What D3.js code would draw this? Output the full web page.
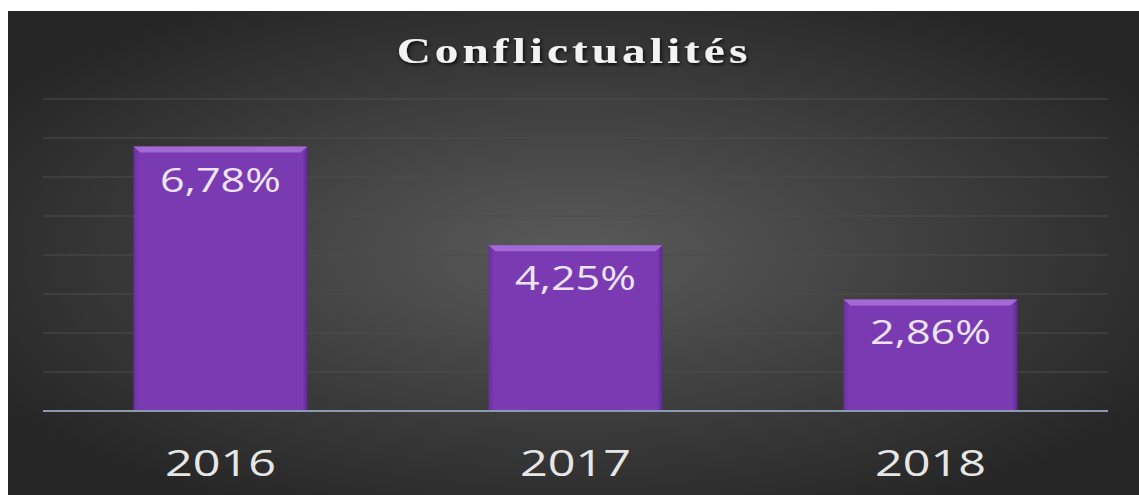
<!doctype html>
<html>
  <head>
    <script src="https://cdnjs.cloudflare.com/ajax/libs/d3/7.8.5/d3.min.js"></script>
    <style>
      body { margin:0; background:#fff; }
      svg { display:block; }
    </style>
  </head>
<body>
  <svg id="chart" width="1139" height="495"></svg>
  <script>
    var years = ["2016", "2017", "2018"];
    var rates = [6.78, 4.25, 2.86];
    var rateLabels = ["6,78%", "4,25%", "2,86%"];
    var yTicks = [1, 2, 3, 4, 5, 6, 7, 8];

    // the source image is stretched sideways, so text is too
    var stretch = 1.35;

    var svg = d3.select("#chart");
    var defs = svg.append("defs");

    var bg = defs.append("radialGradient").attr("id", "bg")
                 .attr("cx", "0.5").attr("cy", "0.5").attr("r", "0.6");
    bg.append("stop").attr("offset", "0%").attr("stop-color", "#5a5a5a");
    bg.append("stop").attr("offset", "100%").attr("stop-color", "#262626");

    var side = defs.append("linearGradient").attr("id", "side")
                   .attr("x1", 0).attr("x2", 1).attr("y1", 0).attr("y2", 0);
    side.append("stop").attr("offset", "0%").attr("stop-color", "#6a2ea0");
    side.append("stop").attr("offset", "3%").attr("stop-color", "#7a3ab2");
    side.append("stop").attr("offset", "97%").attr("stop-color", "#7a3ab2");
    side.append("stop").attr("offset", "100%").attr("stop-color", "#5c2890");

    var shadow = defs.append("filter").attr("id", "shadow")
                     .attr("x", "-10%").attr("y", "-30%").attr("width", "120%").attr("height", "160%");
    shadow.append("feDropShadow").attr("dx", 1).attr("dy", 2).attr("stdDeviation", 1.5)
          .attr("flood-color", "#000").attr("flood-opacity", 0.8);

    // background panel
    svg.append("rect").attr("x", 8).attr("y", 11).attr("width", 1131).attr("height", 484)
       .attr("fill", "url(#bg)");

    var x = d3.scaleBand().domain(years).range([43, 1108]).paddingInner(0.51).paddingOuter(0.255);
    var y = d3.scaleLinear().domain([0, 8]).range([411, 99]);

    // gridlines
    svg.append("g").selectAll("line")
       .data(yTicks).enter().append("line")
       .attr("x1", 43).attr("x2", 1108)
       .attr("y1", d => y(d)).attr("y2", d => y(d))
       .style("stroke", "#4c4c4c").style("stroke-width", "1px");

    var bars = svg.append("g").selectAll("g")
                  .data(rates).enter().append("g");

    bars.append("rect")
        .attr("x", (d, i) => x(years[i]))
        .attr("y", d => y(d))
        .attr("width", x.bandwidth())
        .attr("height", d => y(0) - y(d))
        .style("fill", "url(#side)");

    // bevel on top edge
    bars.append("path")
        .attr("d", (d, i) => {
          var x0 = x(years[i]), x1 = x0 + x.bandwidth(), t = y(d);
          return "M" + x0 + "," + t + "L" + x1 + "," + t + "L" + (x1 - 7) + "," + (t + 6) +
                 "L" + (x0 + 7) + "," + (t + 6) + "Z";
        })
        .style("fill", "#a36ad6");

    bars.append("text")
        .attr("transform", (d, i) => "translate(" + (x(years[i]) + x.bandwidth() / 2) + "," +
                                     (y(d) + 45) + ") scale(" + stretch + ",1)")
        .attr("text-anchor", "middle")
        .style("font-family", "'Open Sans', sans-serif")
        .style("font-size", "32px")
        .style("fill", "#ece4f4")
        .text((d, i) => rateLabels[i]);

    // axis
    var xAxis = svg.append("g").attr("transform", "translate(0," + y(0) + ")")
                   .call(d3.axisBottom(x).tickSize(0).tickPadding(0));
    xAxis.select(".domain").attr("d", "M43,0H1108").style("stroke", "#8a9bb0").style("stroke-width", "2px");
    xAxis.selectAll("text")
         .attr("dy", null).attr("y", null)
         .attr("transform", "translate(0,65) scale(" + stretch + ",1)")
         .style("font-family", "'Open Sans', sans-serif")
         .style("font-size", "36px")
         .style("fill", "#e6e6e6");

    svg.append("text")
       .attr("transform", "translate(574,63) scale(" + stretch + ",1)")
       .attr("text-anchor", "middle")
       .style("font-family", "'Liberation Serif', serif")
       .style("font-weight", "bold")
       .style("font-size", "35px")
       .style("letter-spacing", "3px")
       .style("fill", "#f2f2f2")
       .attr("filter", "url(#shadow)")
       .text("Conflictualités");
  </script>
</body>
</html>
